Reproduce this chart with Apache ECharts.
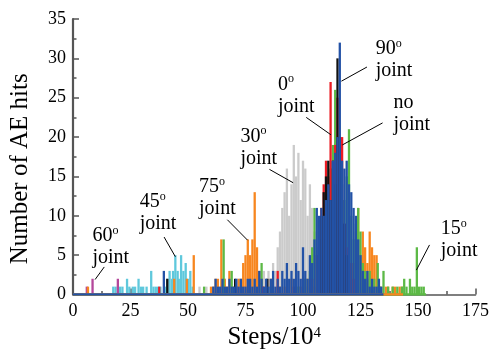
<!DOCTYPE html>
<html>
<head>
<meta charset="utf-8">
<script src="https://cdn.jsdelivr.net/npm/echarts@6/dist/echarts.min.js"></script>
<style>
  html, body { margin: 0; padding: 0; background: #fff; }
  #chart { width: 492px; height: 361px; }
</style>
</head>
<body>
<div id="chart"></div>
<script>
// AE hit counts, [steps / 10^4, hits], one list per specimen
const hits60 = [[6,1],[8.5,2],[19.5,2]];
const hits45 = [[17.5,1],[18.5,1],[20.5,1],[21.5,1],[23.5,2],[24.5,1],[26,1],[27,1],[28.5,2],[29.5,1],[30.5,1],[32,1],[34,3],[35,1],[36,1],[37,1],[38,1],[40,1],[41,2],[42,3],[43,2],[43.5,3],[44.5,5],[45.5,3],[46,2],[47,5],[48,3],[49,4],[50,2],[51,3],[52,1]];
const hits30 = [[55,1],[58,1],[62,1],[64,1],[66,2],[68,1],[70,1],[72,2],[74,1],[76,1],[78,2],[80,2],[81,3],[82,2],[83,3],[84,2],[85,3],[86,2],[87,4],[88,3],[89,6],[90,8],[91,11],[92,13],[93,16],[94,10],[95,14],[96,19],[97,15],[98,18],[99,12],[100,17],[101,16],[102,10],[103,14],[104,11],[105,8],[106,6],[107,9],[108,5],[109,6],[110,4],[111,5],[112,3],[113,4],[114,3],[115,5],[116,3],[117,4],[118,2],[119,3],[120,2],[121,3],[122,1],[123,2],[124,1],[125,1]];
const hits75 = [[6.5,1],[44,2],[49.5,2],[52.5,5],[60,1],[61,1],[62,2],[63,2],[64.5,7],[66,2],[67,1],[68,3],[69,1],[70,1],[71,1],[72,2],[73,2],[74,4],[75,5],[76,7],[77,5],[78,7],[79,13],[80,6],[81,3],[82,2],[83,1],[84,1],[86,2],[87,1],[89,1],[90,1],[92,1],[93,1],[95,2],[96,1],[98,1],[99,1],[101,1],[102,2],[104,1],[105,1],[107,2],[108,1],[110,1],[112,2],[113,1],[115,1],[116,2],[118,2],[119,3],[120,2],[121,3],[122,4],[123,8],[124,11],[125,5],[126,8],[127,6],[128,4],[129,8],[130,6],[131,5],[132,5],[133,2],[134,1],[136,1],[137,1],[139,1],[140,1],[142,1],[143,1]];
const hits15 = [[57,1],[65.5,7],[69,3],[71,1],[82,4],[86,1],[98,1],[101,2],[103,3],[104,6],[105,11],[106,5],[107,8],[108,11],[109,7],[110,9],[111,12],[112,16],[113,19],[114,26],[115,13],[116,17],[117,14],[118,12],[119,15],[120,21],[121,10],[122,7],[123,9],[124,11],[125,8],[126,4],[127,3],[128,2],[129,3],[130,1],[131,2],[132.5,4],[133.5,1],[135,3],[137,1],[139,1],[141,1],[143,1],[144,2],[145,1],[146.5,2],[147.5,1],[148.5,1],[149.5,6],[150.5,1],[151.5,1],[152.5,1]];
const hits0 = [[37.5,1],[71,1],[82.5,1],[89,3],[96,1],[100,2],[104,2],[106,5],[107,8],[108,11],[109,14],[110,17],[111,15],[112,27],[113,16],[114,19],[115,25],[116,15],[117,20],[118,9],[119,6],[120,3],[121,4],[122,2]];
const hits90 = [[41,2],[70.5,2],[84.5,2],[107,7],[108,10],[109,13],[110,15],[111,17],[112,12],[113,17],[114,14],[115,30],[116,20],[117,12],[118,9],[119,5]];
const hitsNone = [[39.5,3],[61,1],[62,2],[63,1],[64,1],[65,2],[66,1],[67,1],[68,2],[69,1],[70,1],[71,2],[72,1],[73,2],[74,1],[75,1],[76,2],[77,2],[78,1],[79,2],[80,1],[81,3],[82,2],[83,1],[84,2],[85,1],[86,2],[87,3],[88,1],[89,2],[90,1],[91,3],[92,2],[93,4],[94,2],[95,3],[96,2],[97,4],[98,3],[99,2],[100,6],[101,3],[102,2],[103,5],[104,4],[105,7],[106,11],[107,10],[108,11],[109,10],[110,12],[111,14],[112,12],[113,17],[114,18],[115,20],[116,32],[117,17],[118,16],[119,17],[120,14],[121,13],[122,11],[123,10],[124,7],[125,5],[126,3],[127,2],[128,3],[129,1],[130,2],[131,1],[132,1],[133,2],[134,1]];

// Recorded step range of the longer runs (drawn as a zero line)
const spanNone = [0, 135];
const span75 = [0, 143.5];
const span15 = [0, 153.5];

const xTicks = [0, 25, 50, 75, 100, 125, 150, 175];
const yTicks = [0, 5, 10, 15, 20, 25, 30, 35];

const FONT = '"Liberation Serif", "Times New Roman", serif';

const specimens = [
  { name: '30° joint', color: '#cbcbcb', data: hits30 },
  { name: '45° joint', color: '#5fc8dc', data: hits45 },
  { name: '60° joint', color: '#b4479b', data: hits60 },
  { name: '75° joint', color: '#f7861f', data: hits75 },
  { name: '15° joint', color: '#5cb946', data: hits15 },
  { name: '0° joint',  color: '#ec1c24', data: hits0 },
  { name: '90° joint', color: '#111111', data: hits90 },
  { name: 'no joint',  color: '#2352a6', data: hitsNone }
];

const zeroLines = [
  { span: span15, color: '#5cb946' },
  { span: span75, color: '#f7861f' },
  { span: spanNone, color: '#2352a6' }
];

// Callouts in data coordinates: text block top-left, leader line start and end
const callouts = [
  { head: '60', sup: true, at: [8.45, 8.8],  from: [13.6, 3.5],  to: [9.6, 1.9] },
  { head: '45', sup: true, at: [29.0, 13.2], from: [39.6, 7.3],  to: [44.5, 4.8] },
  { head: '75', sup: true, at: [54.8, 15.1], from: [67.1, 9.5],  to: [75.9, 6.9] },
  { head: '30', sup: true, at: [72.8, 21.5], from: [85.4, 15.9], to: [95.7, 14.2] },
  { head: '0',  sup: true, at: [89.1, 28.1], from: [101.4, 22.5], to: [112.1, 20.3] },
  { head: '90', sup: true, at: [131.6, 32.6], from: [127.8, 28.9], to: [116.7, 27.1] },
  { head: 'no', sup: false, at: [139.3, 25.7], from: [134.6, 21.8], to: [117.1, 19.0] },
  { head: '15', sup: true, at: [159.9, 9.7], from: [155.0, 6.3], to: [149.3, 3.1] }
];

const chart = echarts.init(document.getElementById('chart'), null, { renderer: 'canvas' });

const axisGray = '#555555';

const series = [];
zeroLines.forEach(z => {
  series.push({
    type: 'line',
    data: [[z.span[0], 0], [z.span[1], 0]],
    symbol: 'none',
    silent: true,
    lineStyle: { color: z.color, width: 2.6 },
    z: 3
  });
});
specimens.forEach(s => {
  series.push({
    type: 'bar',
    name: s.name,
    data: s.data,
    barWidth: 2.3,
    barGap: '-100%',
    itemStyle: { color: s.color },
    z: 2
  });
});

chart.setOption({
  animation: false,
  backgroundColor: '#ffffff',
  grid: { left: 70.3, right: 13.7, top: 19, bottom: 66.5, containLabel: false },
  xAxis: {
    type: 'value',
    min: xTicks[0],
    max: xTicks[xTicks.length - 1],
    interval: 25,
    name: '{a|Steps/10}{b|4}',
    nameLocation: 'middle',
    nameGap: 27,
    nameTextStyle: {
      rich: {
        a: { fontFamily: FONT, fontSize: 25, color: '#000' },
        b: { fontFamily: FONT, fontSize: 15, color: '#000', verticalAlign: 'top' }
      }
    },
    axisLine: { show: true, onZero: false, lineStyle: { color: axisGray, width: 1.5 } },
    axisTick: { show: true, inside: true, length: 6, lineStyle: { color: axisGray, width: 1.5 } },
    minorTick: { show: true, splitNumber: 2, length: 3.5, lineStyle: { color: axisGray, width: 1.5 } },
    splitLine: { show: false },
    axisLabel: { fontFamily: FONT, fontSize: 18, color: '#000', margin: 8 }
  },
  yAxis: {
    type: 'value',
    min: yTicks[0],
    max: yTicks[yTicks.length - 1],
    interval: 5,
    name: 'Number of AE hits',
    nameLocation: 'middle',
    nameGap: 40,
    nameTextStyle: { fontFamily: FONT, fontSize: 25, color: '#000', padding: [0, 24, 0, 0] },
    axisLine: { show: true, lineStyle: { color: axisGray, width: 2.2 } },
    axisTick: { show: true, inside: true, length: 6, lineStyle: { color: axisGray, width: 1.5 } },
    minorTick: { show: true, splitNumber: 2, length: 3.5, lineStyle: { color: axisGray, width: 1.5 } },
    splitLine: { show: false },
    axisLabel: { fontFamily: FONT, fontSize: 18, color: '#000', margin: 7 }
  },
  series: series
});

// Callout labels and leader lines, placed through the axes
const graphics = [];
callouts.forEach(c => {
  const p = chart.convertToPixel({ gridIndex: 0 }, c.at);
  const a = chart.convertToPixel({ gridIndex: 0 }, c.from);
  const b = chart.convertToPixel({ gridIndex: 0 }, c.to);
  const head = c.sup ? '{n|' + c.head + '}{s|o}' : '{n|' + c.head + '}';
  graphics.push({
    type: 'text',
    x: p[0],
    y: p[1],
    silent: true,
    style: {
      text: head + '\n{n|joint}',
      align: 'left',
      verticalAlign: 'top',
      fill: '#000',
      rich: {
        n: { fontFamily: FONT, fontSize: 20, lineHeight: 22, fill: '#000' },
        s: { fontFamily: FONT, fontSize: 12, lineHeight: 22, fill: '#000', verticalAlign: 'top' }
      }
    },
    z: 20
  });
  graphics.push({
    type: 'line',
    silent: true,
    shape: { x1: a[0], y1: a[1], x2: b[0], y2: b[1] },
    style: { stroke: '#000', lineWidth: 1 },
    z: 20
  });
});
chart.setOption({ graphic: graphics });
</script>
</body>
</html>
